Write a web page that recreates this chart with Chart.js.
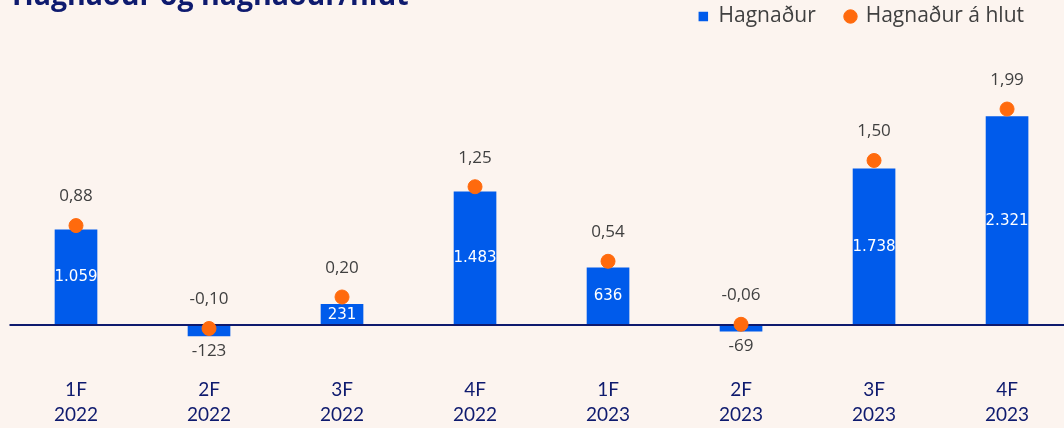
<!DOCTYPE html>
<html><head><meta charset="utf-8">
<script src="https://cdn.jsdelivr.net/npm/chart.js@4"></script>
<style>html,body{margin:0;padding:0;background:#FCF4EF;overflow:hidden}#wrap{width:1064px;height:428px;position:relative}</style>
</head><body><div id="wrap"><canvas id="c" width="1064" height="428"></canvas></div>
<script>
const titleText = 'Hagnaður og hagnaður/hlut';
const seriesNames = ['Hagnaður', 'Hagnaður á hlut'];
const categories = [['1F','2022'],['2F','2022'],['3F','2022'],['4F','2022'],['1F','2023'],['2F','2023'],['3F','2023'],['4F','2023']];
const profit = [1059, -123, 231, 1483, 636, -69, 1738, 2321];
const eps = [0.88, -0.10, 0.20, 1.25, 0.54, -0.06, 1.50, 1.99];

const NAVY = '#0E1A6E', BLUE = '#005BEB', ORANGE = '#FF6A0D', GRAY = '#404040';

function fmtInt(v){ const s = Math.abs(v).toString().replace(/\B(?=(\d{3})+(?!\d))/g,'.'); return (v<0?'-':'')+s; }
function fmtDec(v){ return v.toFixed(2).replace('.',','); }

const titlePlugin = {
  id:'titleText',
  beforeDraw(chart){
    const ctx = chart.ctx; ctx.save();
    ctx.font = 'bold 28.5px "Open Sans"'; ctx.fillStyle = NAVY; ctx.textBaseline='alphabetic'; ctx.textAlign='left';
    ctx.fillText(titleText, 12, 5); ctx.restore();
  }
};
const zeroLine = {
  id:'zeroLine',
  beforeDatasetDraw(chart, args){
    if(args.index !== 1) return;
    const y = chart.scales.y.getPixelForValue(0), a = chart.chartArea, ctx = chart.ctx;
    ctx.save(); ctx.strokeStyle = NAVY; ctx.lineWidth = 2;
    ctx.beginPath(); ctx.moveTo(a.left, y); ctx.lineTo(chart.width, y); ctx.stroke(); ctx.restore();
  }
};
const valueLabels = {
  id:'valueLabels',
  afterDatasetsDraw(chart){
    const ctx = chart.ctx; ctx.save(); ctx.textAlign='center'; ctx.textBaseline='middle';
    chart.getDatasetMeta(0).data.forEach((el,i)=>{
      const v = profit[i];
      if(v>=0){ ctx.font='15px "DejaVu Sans"'; ctx.fillStyle='#FFFFFF'; ctx.fillText(fmtInt(v), el.x, (el.y+el.base)/2); }
      else { ctx.font='17px "Open Sans"'; ctx.fillStyle=GRAY; ctx.fillText(fmtInt(v), el.x, el.y+15); }
    });
    chart.getDatasetMeta(1).data.forEach((el,i)=>{
      ctx.font='17px "Open Sans"'; ctx.fillStyle=GRAY; ctx.fillText(fmtDec(eps[i]), el.x, el.y-29);
    });
    ctx.restore();
  }
};

new Chart(document.getElementById('c'), {
  data:{
    datasets:[
      {type:'bar', label:seriesNames[0], data:profit.map((v,i)=>({x:i,y:v})), backgroundColor:BLUE, barThickness:42, yAxisID:'y', order:2, pointStyle:'rect'},
      {type:'line', label:seriesNames[1], data:eps.map((v,i)=>({x:i,y:v})), showLine:false, pointRadius:7, pointHoverRadius:7, pointBackgroundColor:ORANGE, pointBorderColor:ORANGE, backgroundColor:ORANGE, borderColor:ORANGE, yAxisID:'y1', order:1, pointStyle:'circle'}
    ]
  },
  options:{
    responsive:false, animation:false, devicePixelRatio:1,
    layout:{padding:{top:-24, left:9.5, right:10, bottom:-8}},
    plugins:{
      legend:{position:'top', align:'end',
        labels:{usePointStyle:true, boxHeight:9.5, boxWidth:9.5, padding:30, color:GRAY, font:{family:'"Open Sans"', size:21},
          sort:(a,b)=>a.datasetIndex-b.datasetIndex}},
      tooltip:{enabled:false}
    },
    scales:{
      x:{type:'linear', offset:false, bounds:'data', min:-0.5, max:7.353, grid:{display:false}, border:{display:false},
        afterBuildTicks:(ax)=>{ ax.ticks = categories.map((c,i)=>({value:i})); },
        ticks:{autoSkip:false, maxRotation:0, color:NAVY, font:{family:'Lato', size:19, lineHeight:1.35}, padding:8, callback:(v)=>categories[v]}},
      y:{display:false, min:-397.6, max:3207},
      y1:{display:false, min:-0.4067, max:2.676}
    }
  },
  plugins:[titlePlugin, zeroLine, valueLabels]
});
</script></body></html>
